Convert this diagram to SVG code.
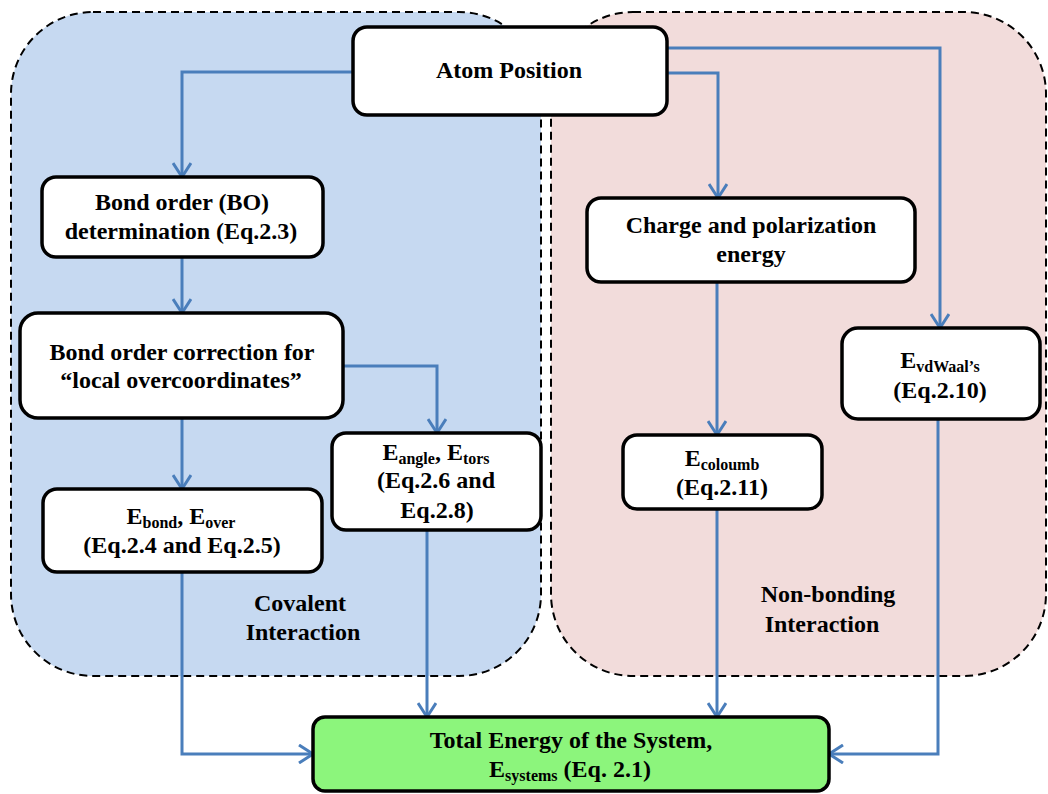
<svg xmlns="http://www.w3.org/2000/svg" width="1048" height="794" viewBox="0 0 1048 794">
<defs>
<marker id="arr" viewBox="0 0 20 20" refX="18" refY="10" markerWidth="20" markerHeight="20" markerUnits="userSpaceOnUse" orient="auto">
<path d="M4,1 L18,10 L4,19" fill="none" stroke="#4a7ebb" stroke-width="3" stroke-linejoin="round"/>
</marker>
<style>
.region{stroke:#000;stroke-width:2;stroke-dasharray:8,5}
.box{fill:#fff;stroke:#000;stroke-width:3.5}
.t{font-family:'Liberation Serif','DejaVu Serif',serif;font-weight:bold;font-size:24px;fill:#000;text-anchor:middle}
.s{font-size:16px}
.c{fill:none;stroke:#4a7ebb;stroke-width:3}
</style>
</defs>
<rect width="1048" height="794" fill="#fff"/>
<g id="covalent-region">
<rect class="region" x="11" y="12" width="530" height="664" rx="82" ry="82" fill="#c6d9f1"/>
<text class="t" x="300" y="611">Covalent</text>
<text class="t" x="303" y="640">Interaction</text>
</g>
<g id="nonbonding-region">
<rect class="region" x="551" y="12" width="495" height="664" rx="82" ry="82" fill="#f2dcdb"/>
<text class="t" x="828" y="602">Non-bonding</text>
<text class="t" x="822" y="632">Interaction</text>
</g>
<g id="connectors">
<path class="c" d="M352,72 H182 V177" marker-end="url(#arr)"/>
<path class="c" d="M182,257 V313" marker-end="url(#arr)"/>
<path class="c" d="M182,418 V489" marker-end="url(#arr)"/>
<path class="c" d="M343,366 H437 V433" marker-end="url(#arr)"/>
<path class="c" d="M667,48 H940 V328" marker-end="url(#arr)"/>
<path class="c" d="M667,73 H718 V198" marker-end="url(#arr)"/>
<path class="c" d="M717,282 V435" marker-end="url(#arr)"/>
<path class="c" d="M182,572 V754 H313" marker-end="url(#arr)"/>
<path class="c" d="M427,530 V717" marker-end="url(#arr)"/>
<path class="c" d="M717,509 V717" marker-end="url(#arr)"/>
<path class="c" d="M938,419 V754 H829" marker-end="url(#arr)"/>
</g>
<g id="atom-position">
<rect class="box" x="353" y="27" width="314" height="88" rx="14"/>
<text class="t" x="509" y="78">Atom Position</text>
</g>
<g id="bond-order">
<rect class="box" x="42" y="177" width="281" height="80" rx="14"/>
<text class="t" x="182" y="210">Bond order (BO)</text>
<text class="t" x="181" y="239">determination (Eq.2.3)</text>
</g>
<g id="bond-order-correction">
<rect class="box" x="20" y="313" width="323" height="105" rx="18"/>
<text class="t" x="182" y="360">Bond order correction for</text>
<text class="t" x="181" y="388">“local overcoordinates”</text>
</g>
<g id="e-angle-tors">
<rect class="box" x="332" y="433" width="209" height="97" rx="14"/>
<text class="t" x="436" y="460">E<tspan class="s" dy="4">angle</tspan><tspan dy="-4">, E</tspan><tspan class="s" dy="4">tors</tspan></text>
<text class="t" x="436" y="488">(Eq.2.6 and</text>
<text class="t" x="437" y="518">Eq.2.8)</text>
</g>
<g id="e-bond-over">
<rect class="box" x="43" y="489" width="279" height="83" rx="14"/>
<text class="t" x="181" y="524">E<tspan class="s" dy="4">bond</tspan><tspan dy="-4">, E</tspan><tspan class="s" dy="4">over</tspan></text>
<text class="t" x="182" y="553">(Eq.2.4 and Eq.2.5)</text>
</g>
<g id="charge-polarization">
<rect class="box" x="587" y="198" width="328" height="84" rx="14"/>
<text class="t" x="751" y="233">Charge and polarization</text>
<text class="t" x="751" y="262">energy</text>
</g>
<g id="e-vdwaals">
<rect class="box" x="842" y="328" width="198" height="91" rx="16"/>
<text class="t" x="940" y="368">E<tspan class="s" dy="4">vdWaal’s</tspan></text>
<text class="t" x="940" y="398">(Eq.2.10)</text>
</g>
<g id="e-coloumb">
<rect class="box" x="623" y="435" width="199" height="74" rx="14"/>
<text class="t" x="722" y="466">E<tspan class="s" dy="4">coloumb</tspan></text>
<text class="t" x="722" y="495">(Eq.2.11)</text>
</g>
<g id="total-energy">
<rect class="box" x="313" y="717" width="516" height="74" rx="12" style="fill:#8cf57c"/>
<text class="t" x="571" y="748">Total Energy of the System,</text>
<text class="t" x="570" y="777">E<tspan class="s" dy="4">systems</tspan><tspan dy="-4"> (Eq. 2.1)</tspan></text>
</g>
</svg>
